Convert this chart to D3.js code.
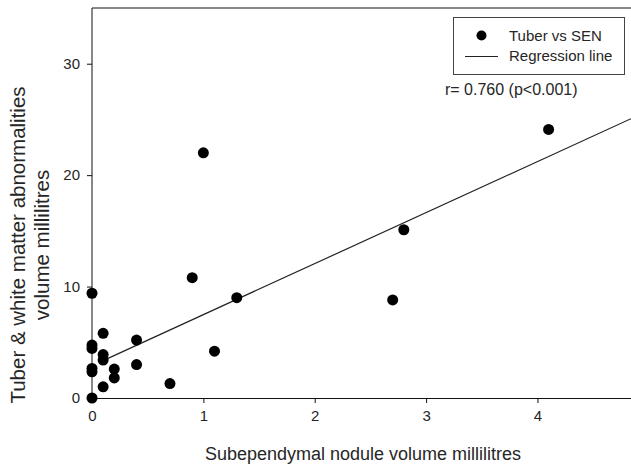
<!DOCTYPE html>
<html>
<head>
<meta charset="utf-8">
<script src="https://cdn.jsdelivr.net/npm/d3@7"></script>
<style>
html,body{margin:0;padding:0;background:#fff;}
svg{display:block;font-family:"Liberation Sans",Arial,sans-serif;}
</style>
</head>
<body>
<svg id="chart" width="631" height="466"></svg>
<script>
// Data
const senVolume = [0, 0, 0, 0, 0, 0, 0.1, 0.1, 0.1, 0.1, 0.2, 0.2, 0.4, 0.4, 0.7, 0.9, 1.0, 1.1, 1.3, 2.7, 2.8, 4.1];
const tuberVolume = [9.4, 4.75, 4.45, 2.65, 2.35, 0, 5.8, 3.9, 3.4, 1.0, 2.6, 1.8, 5.2, 3.0, 1.3, 10.8, 22.0, 4.2, 9.0, 8.8, 15.1, 24.1];
const regIntercept = 2.9;
const regSlope = 4.58;
const regXRange = [0.1, 4.84];
const xTicks = [0, 1, 2, 3, 4];
const yTicks = [0, 10, 20, 30];
const legendLabels = ["Tuber vs SEN", "Regression line"];
const annotation = "r= 0.760 (p<0.001)";
const xTitle = "Subependymal nodule volume millilitres";
const yTitle = ["Tuber & white matter abnormalities", "volume millilitres"];

const svg = d3.select("#chart");
const mLeft = 92, mRight = 631, mTop = 8, mBottom = 398;
const x = d3.scaleLinear().domain([0, 4.84]).range([mLeft, mRight]);
const y = d3.scaleLinear().domain([0, 35]).range([mBottom, mTop]);
const txt = "#262626";
const font = "Liberation Sans, Arial, sans-serif";

// frame top line
svg.append("line").attr("x1", mLeft).attr("x2", mRight).attr("y1", mTop).attr("y2", mTop)
  .attr("stroke", "#111").attr("stroke-width", 1);

const xAxis = svg.append("g").attr("transform", `translate(0,${mBottom})`)
  .call(d3.axisBottom(x).tickValues(xTicks).tickFormat(d3.format("d")).tickSizeOuter(0).tickSize(5).tickPadding(7));
const yAxis = svg.append("g").attr("transform", `translate(${mLeft},0)`)
  .call(d3.axisLeft(y).tickValues(yTicks).tickFormat(d3.format("d")).tickSizeOuter(0).tickSize(5).tickPadding(7));
[xAxis, yAxis].forEach(g => {
  g.select(".domain").attr("stroke", "#111").attr("stroke-width", 1);
  g.selectAll(".tick line").attr("stroke", "#111");
  g.selectAll(".tick text").attr("fill", txt).attr("font-size", 15).attr("font-family", font);
});
yAxis.select(".domain").attr("d", `M0,${mBottom}V${mTop}`);

// regression line
svg.append("line")
  .attr("x1", x(regXRange[0])).attr("y1", y(regIntercept + regSlope * regXRange[0]))
  .attr("x2", x(regXRange[1])).attr("y2", y(regIntercept + regSlope * regXRange[1]))
  .attr("stroke", "#222").attr("stroke-width", 1.2);

// points
svg.append("g").selectAll("circle").data(senVolume.map((d, i) => [d, tuberVolume[i]]))
  .join("circle").attr("cx", d => x(d[0])).attr("cy", d => y(d[1])).attr("r", 5.5).attr("fill", "#000");

// legend
const lg = svg.append("g");
lg.append("rect").attr("x", 453.5).attr("y", 17.5).attr("width", 171).attr("height", 57)
  .attr("fill", "#fff").attr("stroke", "#444").attr("stroke-width", 1);
lg.append("circle").attr("cx", 481.5).attr("cy", 35.5).attr("r", 5).attr("fill", "#000");
lg.append("line").attr("x1", 465).attr("x2", 498).attr("y1", 56.5).attr("y2", 56.5).attr("stroke", "#222").attr("stroke-width", 1.2);
lg.selectAll("text.lab").data(legendLabels).join("text").attr("class", "lab")
  .attr("x", 509).attr("y", (d, i) => 41 + i * 19.5).attr("font-size", 15).attr("fill", txt).text(d => d);

svg.append("text").attr("x", 445).attr("y", 95).attr("font-size", 16).attr("fill", txt).text(annotation);

// axis titles
svg.append("text").attr("x", 363).attr("y", 460).attr("text-anchor", "middle")
  .attr("font-size", 18).attr("fill", txt).text(xTitle);
const yt = svg.append("text").attr("transform", "translate(0,245) rotate(-90)").attr("text-anchor", "middle")
  .attr("font-size", 20.5).attr("fill", txt);
yTitle.forEach((t, i) => yt.append("tspan").attr("x", 0).attr("y", 25 + i * 24).text(t));
</script>
</body>
</html>
